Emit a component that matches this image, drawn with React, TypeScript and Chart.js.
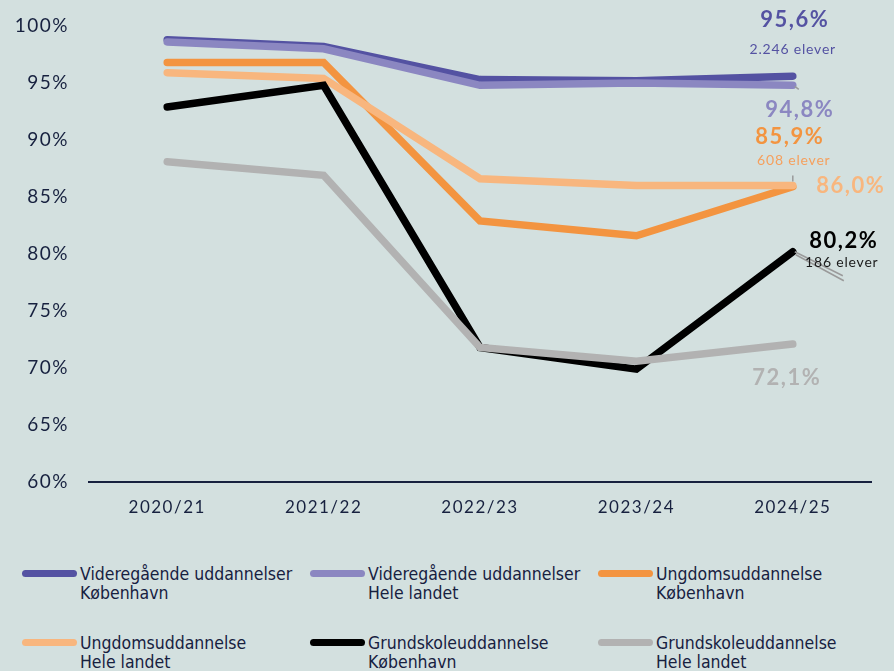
import React, { useEffect, useRef } from "react";
import { Chart, registerables } from "chart.js";

Chart.register(...registerables);

const categories = ["2020/21", "2021/22", "2022/23", "2023/24", "2024/25"];

const vgKbh = [98.8, 98.2, 95.3, 95.2, 95.6];
const vgLand = [98.6, 98.0, 94.8, 95.0, 94.8];
const ungKbh = [96.8, 96.8, 82.9, 81.6, 85.9];
const ungLand = [95.9, 95.4, 86.6, 86.0, 86.0];
const grKbh = [92.9, 94.8, 71.8, 69.9, 80.2];
const grLand = [88.1, 86.9, 71.8, 70.6, 72.1];

const yTicks = [60, 65, 70, 75, 80, 85, 90, 95, 100];

const seriesNames = [
  ["Videregående uddannelser", "København"],
  ["Videregående uddannelser", "Hele landet"],
  ["Ungdomsuddannelse", "København"],
  ["Ungdomsuddannelse", "Hele landet"],
  ["Grundskoleuddannelse", "København"],
  ["Grundskoleuddannelse", "Hele landet"],
];
const seriesColors = ["#5452a2", "#8b87c1", "#f39440", "#f8b67e", "#000000", "#b2b2b2"];
const seriesData = [vgKbh, vgLand, ungKbh, ungLand, grKbh, grLand];

const endValueLabels = ["95,6%", "94,8%", "85,9%", "86,0%", "80,2%", "72,1%"];
const endCountLabels = ["2.246 elever", "", "608 elever", "", "186 elever", ""];

// label placement offsets relative to the last point (dx, dy for value; dx, dy for count)
const labelOffsets = [
  [2, -56, 0, -27],
  [7, 25, 0, 0],
  [-3, -50, 1, -26],
  [58, 0, 0, 0],
  [51, -11, 49, 11],
  [-6, 34, 0, 0],
];
const countColors = ["#5452a2", "", "#f5a05e", "", "#1a1a1a", ""];

const BG = "#d3e0df";
const TEXT = "#17213f";
const FONT = "Lato, 'Open Sans', sans-serif";

const spacingPlugin = {
  id: "spacing",
  beforeDraw(chart: any) {
    chart.ctx.letterSpacing = "1.5px";
  },
  afterDraw(chart: any) {
    chart.ctx.letterSpacing = "0px";
  },
};

const endLabelsPlugin = {
  id: "endLabels",
  afterDatasetsDraw(chart: any) {
    const ctx = chart.ctx;
    const xs = chart.scales.x;
    const ys = chart.scales.y;
    const last = categories.length - 1;
    const px = xs.getPixelForValue(last);
    ctx.save();
    ctx.strokeStyle = "#9a9a9a";
    ctx.lineWidth = 1.5;
    const pb = ys.getPixelForValue(grKbh[last]);
    ctx.beginPath();
    ctx.moveTo(px + 2, pb);
    ctx.lineTo(px + 50, pb + 24);
    ctx.moveTo(px + 3, pb + 3);
    ctx.lineTo(px + 51, pb + 29);
    const po = ys.getPixelForValue(ungLand[last]);
    ctx.moveTo(px, po - 10);
    ctx.lineTo(px, po - 4);
    const pl = ys.getPixelForValue(vgLand[last]);
    ctx.moveTo(px + 2, pl + 1);
    ctx.lineTo(px + 6, pl + 4);
    ctx.stroke();

    ctx.textAlign = "center";
    ctx.textBaseline = "middle";
    seriesData.forEach((d, i) => {
      const py = ys.getPixelForValue(d[last]);
      const [dx, dy, cdx, cdy] = labelOffsets[i];
      ctx.letterSpacing = "1.5px";
      ctx.fillStyle = seriesColors[i];
      ctx.font = "bold 22px " + FONT;
      ctx.fillText(endValueLabels[i], px + dx, py + dy);
      if (endCountLabels[i]) {
        ctx.letterSpacing = "0.8px";
        ctx.fillStyle = countColors[i];
        ctx.font = "14px " + FONT;
        ctx.fillText(endCountLabels[i], px + cdx, py + cdy);
      }
    });
    ctx.restore();
  },
};

function ChartView() {
  const ref = useRef<HTMLCanvasElement | null>(null);
  useEffect(() => {
    if (!ref.current) return;
    const chart = new Chart(ref.current, {
      type: "line",
      data: {
        labels: categories,
        datasets: seriesData.map((d, i) => ({
          label: seriesNames[i].join(" "),
          data: d,
          borderColor: seriesColors[i],
          backgroundColor: seriesColors[i],
          borderWidth: 7.5,
          pointRadius: 0,
          borderCapStyle: "round",
          borderJoinStyle: "miter",
          tension: 0,
          order: 5 - i,
        })),
      },
      options: {
        animation: false,
        responsive: false,
        maintainAspectRatio: false,
        layout: { padding: { top: 26, right: 23, left: 0, bottom: 0 } },
        plugins: { legend: { display: false }, tooltip: { enabled: false } },
        scales: {
          x: {
            offset: true,
            grid: { display: false, drawTicks: false },
            border: { display: true, color: TEXT, width: 2 },
            ticks: {
              color: TEXT,
              padding: 15,
              font: { family: FONT, size: 17 },
            },
            afterFit: (s: any) => {
              s.height = 48;
            },
          },
          y: {
            min: 60,
            max: 100,
            afterBuildTicks: (s: any) => {
              s.ticks = yTicks.map((v) => ({ value: v }));
            },
            grid: { display: false, drawTicks: false },
            border: { display: false },
            ticks: {
              color: TEXT,
              padding: 20,
              font: { family: FONT, size: 19, lineHeight: 0.5 },
              callback: (v: any) => v + "%",
            },
            afterFit: (s: any) => {
              s.width = 89;
            },
          },
        },
      },
      plugins: [spacingPlugin, endLabelsPlugin],
    });
    return () => chart.destroy();
  }, []);
  return <canvas ref={ref} width={894} height={530} style={{ display: "block" }} />;
}

export default function App() {
  useEffect(() => {
    document.body.style.margin = "0";
    document.body.style.background = BG;
  }, []);
  const legendFont = "'Liberation Sans Narrow', 'DejaVu Sans Condensed', 'Roboto Condensed', sans-serif";
  return (
    <div style={{ width: 894, height: 671, background: BG, position: "relative", overflow: "hidden" }}>
      <ChartView />
      {seriesNames.map((n, i) => {
        const col = i % 3;
        const row = Math.floor(i / 3);
        const left = 22 + col * 288;
        const top = 565 + row * 69;
        return (
          <div key={i} style={{ position: "absolute", left, top, display: "flex", alignItems: "flex-start" }}>
            <div
              style={{
                width: 55,
                height: 7,
                borderRadius: 4,
                background: seriesColors[i],
                marginTop: 5,
                marginRight: 3,
              }}
            />
            <div style={{ fontFamily: legendFont, fontSize: 17.5, lineHeight: "19px", color: TEXT }}>
              <div>{n[0]}</div>
              <div>{n[1]}</div>
            </div>
          </div>
        );
      })}
    </div>
  );
}
